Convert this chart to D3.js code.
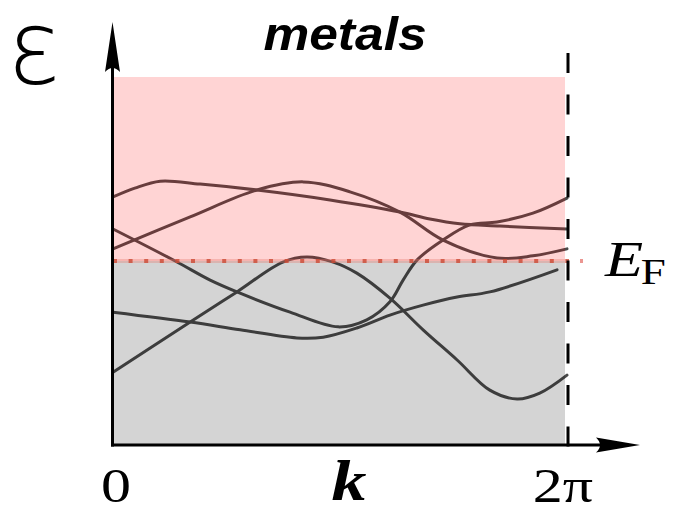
<!DOCTYPE html>
<html>
<head>
<meta charset="utf-8">
<script src="https://cdn.jsdelivr.net/npm/d3@7"></script>
<style>
  html, body { margin: 0; padding: 0; background: #fff; }
  svg { display: block; }
</style>
</head>
<body>
<svg id="chart" width="673" height="513"></svg>
<script>
// Band structure of a metal: bands crossing the Fermi level.
// k is given as a fraction of the period 2π, energies on a 0..1 scale.
const fermiLevel = 0.5;
const title = "metals";
const tickLabels = ["0", "2π"];
const tickPositions = [0, 1];

const band1K = [0, 0.048, 0.104, 0.192, 0.317, 0.478, 0.632, 0.698, 0.764, 0.852, 1];
const band1E = [0.674, 0.698, 0.717, 0.709, 0.693, 0.666, 0.633, 0.614, 0.601, 0.595, 0.587];

const band2K = [0, 0.170, 0.317, 0.419, 0.522, 0.632, 0.727, 0.846, 0.925, 1];
const band2E = [0.533, 0.620, 0.693, 0.715, 0.688, 0.633, 0.557, 0.508, 0.514, 0.533];

const band3K = [0, 0.137, 0.214, 0.273, 0.390, 0.496, 0.559, 0.610, 0.639, 0.670, 0.727, 0.786, 0.846, 0.925, 1];
const band3E = [0.587, 0.500, 0.448, 0.416, 0.361, 0.321, 0.340, 0.389, 0.448, 0.503, 0.557, 0.598, 0.606, 0.630, 0.671];

const band4K = [0, 0.170, 0.273, 0.374, 0.427, 0.485, 0.537, 0.610, 0.683, 0.758, 0.830, 0.890, 0.940, 1];
const band4E = [0.198, 0.334, 0.416, 0.497, 0.511, 0.497, 0.467, 0.399, 0.313, 0.231, 0.149, 0.125, 0.141, 0.190];

const band5K = [0, 0.170, 0.280, 0.405, 0.463, 0.537, 0.610, 0.683, 0.758, 0.830, 0.978];
const band5E = [0.361, 0.334, 0.313, 0.291, 0.293, 0.318, 0.353, 0.380, 0.402, 0.416, 0.476];

const bands = [
  [band1K, band1E], [band2K, band2E], [band3K, band3E], [band4K, band4E], [band5K, band5E]
].map(([ks, es]) => ks.map((k, i) => ({ k, e: es[i] })));

const svg = d3.select("#chart");
const x = d3.scaleLinear().domain([0, 1]).range([113, 567]);
const y = d3.scaleLinear().domain([0, 1]).range([445, 77]);

const line = d3.line()
  .x(d => x(d.k))
  .y(d => y(d.e))
  .curve(d3.curveCatmullRom.alpha(0.5));

// band curves
svg.append("g")
  .selectAll("path")
  .data(bands)
  .join("path")
  .attr("d", line)
  .attr("fill", "none")
  .attr("stroke", "#4a4a4a")
  .attr("stroke-width", 3)
  .attr("stroke-linecap", "round");

// tinted regions: empty states (red) above E_F, filled states (grey) below
const x0 = x(0), x1 = x(1) - 2;
svg.append("rect")
  .attr("x", x0).attr("y", y(1))
  .attr("width", x1 - x0).attr("height", y(fermiLevel) - y(1))
  .attr("fill", "rgb(255,0,0)").attr("fill-opacity", 0.17);
svg.append("rect")
  .attr("x", x0).attr("y", y(fermiLevel))
  .attr("width", x1 - x0).attr("height", y(0) - y(fermiLevel))
  .attr("fill", "#000").attr("fill-opacity", 0.17);

// Fermi level
svg.append("line")
  .attr("x1", x(0)).attr("x2", x(1))
  .attr("y1", y(fermiLevel)).attr("y2", y(fermiLevel))
  .attr("stroke", "rgb(230,120,110)").attr("stroke-opacity", 0.35)
  .attr("stroke-width", 4);
svg.append("line")
  .attr("x1", x(0)).attr("x2", x(1) + 2)
  .attr("y1", y(fermiLevel)).attr("y2", y(fermiLevel))
  .attr("stroke", "#cc4a35").attr("stroke-opacity", 0.8)
  .attr("stroke-width", 4)
  .attr("stroke-dasharray", "4,11.6");
svg.append("line")
  .attr("x1", x(1) + 13).attr("x2", x(1) + 16)
  .attr("y1", y(fermiLevel)).attr("y2", y(fermiLevel))
  .attr("stroke", "rgb(235,150,145)").attr("stroke-width", 4);

// period boundary
svg.append("line")
  .attr("x1", x(1) + 1).attr("x2", x(1) + 1)
  .attr("y1", 53).attr("y2", 447)
  .attr("stroke", "#000").attr("stroke-width", 3)
  .attr("stroke-dasharray", "20,21.5");

// axes with arrow heads
svg.append("line")
  .attr("x1", 112.5).attr("x2", 112.5)
  .attr("y1", 446.5).attr("y2", 60)
  .attr("stroke", "#000").attr("stroke-width", 3);
svg.append("path")
  .attr("d", "M112.5,22 L105,72 Q112.5,64 120,72 Z")
  .attr("fill", "#000");
svg.append("line")
  .attr("x1", 111).attr("x2", 615)
  .attr("y1", 445).attr("y2", 445)
  .attr("stroke", "#000").attr("stroke-width", 3);
svg.append("path")
  .attr("d", "M640,445 L596,437.5 Q604,445 596,452.5 Z")
  .attr("fill", "#000");

// text
function label(txt, px, py, opts) {
  const s = opts.stretch || 1.25;
  return svg.append("text")
    .attr("transform", `translate(${px},${py}) scale(${s},1)`)
    .attr("text-anchor", opts.anchor || "middle")
    .attr("font-family", opts.family)
    .attr("font-size", opts.size)
    .attr("font-style", opts.style || "normal")
    .attr("font-weight", opts.weight || "normal")
    .attr("fill", "#000")
    .text(txt);
}

label(title, 345, 50, { family: "Liberation Sans, Arial, sans-serif", size: 46, style: "italic", weight: "bold", stretch: 1.12 });
label("ε", 34, 84, { family: "DejaVu Sans, sans-serif", size: 104, weight: 200, stretch: 0.97 });

tickLabels.forEach((t, i) => {
  label(t, x(tickPositions[i]) + (i === 0 ? 3 : -4), 502, { family: "Liberation Serif, Times New Roman, serif", size: 48 });
});
label("k", 349, 500, { family: "Liberation Serif, Times New Roman, serif", size: 56, style: "italic", weight: "bold" });

const ef = svg.append("text")
  .attr("transform", "translate(605,276) scale(1.25,1)")
  .attr("font-family", "Liberation Serif, Times New Roman, serif")
  .attr("fill", "#000");
ef.append("tspan").attr("font-size", 50).attr("font-style", "italic").text("E");
ef.append("tspan").attr("font-size", 36).attr("dy", 8).attr("dx", -2).text("F");
</script>
</body>
</html>
